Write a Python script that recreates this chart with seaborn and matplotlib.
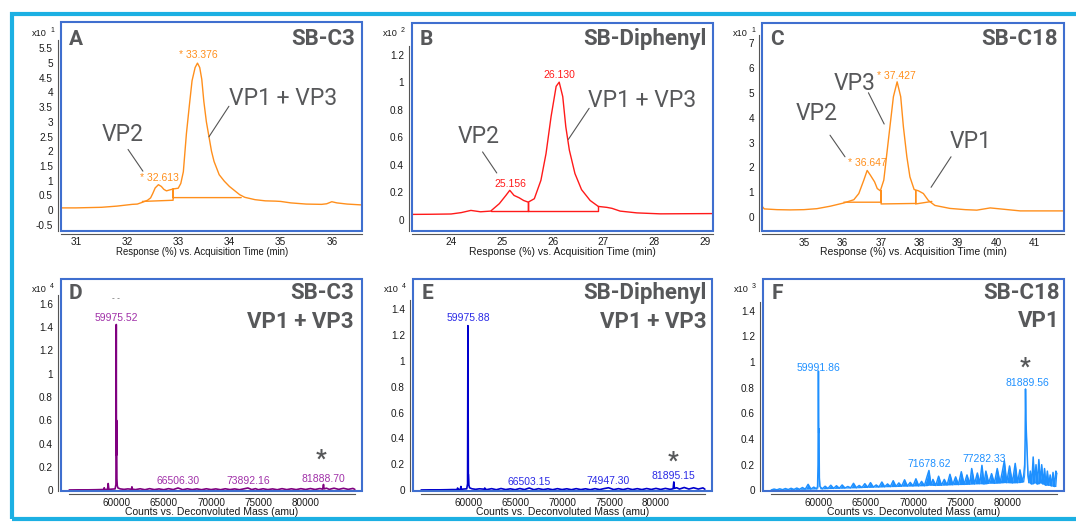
import matplotlib
matplotlib.use("Agg")
import matplotlib.pyplot as plt
import seaborn as sns
import pandas as pd
from matplotlib.patches import Rectangle

# ====================== DATA ======================
# Panel A : SB-C3 chromatogram (response x10^1)
a_time = [30.71, 31.00, 31.50, 31.80, 32.00, 32.10, 32.20, 32.30, 32.40, 32.46, 32.50, 32.55,
          32.613, 32.67, 32.72, 32.77, 32.85, 32.92, 33.00, 33.05, 33.10, 33.16, 33.22, 33.27,
          33.33, 33.376, 33.42, 33.46, 33.50, 33.55, 33.60, 33.65, 33.70, 33.80, 33.90, 34.00,
          34.10, 34.20, 34.30, 34.50, 34.70, 34.90, 35.00, 35.20, 35.50, 35.80, 35.90, 36.00,
          36.10, 36.30, 36.59]
a_resp = [0.07, 0.07, 0.09, 0.13, 0.17, 0.19, 0.20, 0.26, 0.33, 0.41, 0.55, 0.75,
          0.86, 0.80, 0.70, 0.65, 0.69, 0.72, 0.74, 0.90, 1.30, 2.60, 3.60, 4.40,
          4.85, 5.00, 4.85, 4.45, 3.70, 3.00, 2.50, 2.00, 1.65, 1.20, 0.98, 0.80,
          0.66, 0.52, 0.43, 0.35, 0.31, 0.30, 0.29, 0.24, 0.20, 0.19, 0.21, 0.28,
          0.24, 0.20, 0.17]
a_int_time = [32.30, 32.90, 32.90, 32.90, 34.23]
a_int_resp = [0.29, 0.33, 0.72, 0.42, 0.42]
a_peak_time = [32.613, 33.376]

# Panel B : SB-Diphenyl chromatogram (response x10^2)
b_time = [23.23, 23.60, 24.00, 24.20, 24.39, 24.58, 24.78, 24.95, 25.08, 25.156, 25.24, 25.34,
          25.43, 25.52, 25.64, 25.77, 25.87, 25.97, 26.07, 26.130, 26.20, 26.26, 26.33, 26.44,
          26.57, 26.74, 26.90, 27.07, 27.17, 27.33, 27.66, 28.12, 28.60, 29.16]
b_resp = [0.039, 0.040, 0.042, 0.052, 0.068, 0.058, 0.063, 0.117, 0.177, 0.214, 0.177, 0.160,
          0.140, 0.128, 0.153, 0.287, 0.480, 0.750, 0.970, 1.000, 0.895, 0.676, 0.506, 0.336,
          0.219, 0.140, 0.097, 0.090, 0.083, 0.063, 0.050, 0.043, 0.044, 0.045]
b_int_time = [24.78, 25.52, 25.52, 25.52, 26.90, 26.90]
b_int_resp = [0.062, 0.062, 0.128, 0.062, 0.062, 0.097]
b_peak_time = [25.156, 26.130]

# Panel C : SB-C18 chromatogram (response x10^1)
c_time = [33.92, 33.97, 34.30, 34.64, 35.00, 35.34, 35.69, 36.04, 36.30, 36.43, 36.56, 36.647,
          36.73, 36.84, 36.91, 36.99, 37.08, 37.16, 37.25, 37.33, 37.427, 37.52, 37.59, 37.68,
          37.76, 37.87, 37.98, 38.11, 38.24, 38.41, 38.80, 39.20, 39.50, 39.85, 40.11, 40.63,
          41.20, 41.76]
c_resp = [0.42, 0.33, 0.30, 0.29, 0.30, 0.34, 0.44, 0.57, 0.70, 0.95, 1.49, 1.88,
          1.69, 1.42, 1.15, 1.06, 1.49, 2.57, 3.78, 4.85, 5.45, 4.85, 3.64, 2.43,
          1.62, 1.11, 1.06, 0.95, 0.67, 0.47, 0.35, 0.30, 0.28, 0.37, 0.33, 0.25,
          0.25, 0.25]
c_int_time = [36.04, 37.01, 37.01, 37.01, 37.91, 37.91, 37.91, 38.33]
c_int_resp = [0.60, 0.60, 1.06, 0.53, 0.55, 1.07, 0.53, 0.63]
c_peak_time = [36.647, 37.427]

# Panel D : SB-C3 VP1+VP3 deconvoluted mass spectrum (counts x10^4)
d_mass = [55000, 56000, 57000, 57800, 58300, 58650, 58700, 58750, 59050, 59120,
          59190, 59500, 59850, 59940, 59975.52, 59992, 60005, 60020, 60040, 60080,
          60150, 60400, 60800, 61200, 61580, 61630, 61680, 62000, 62500, 63000,
          63500, 64000, 64500, 65000, 65500, 66000, 66506.30, 67000, 67500, 68000,
          68500, 69000, 69500, 70000, 70500, 71000, 71500, 72000, 72500, 73000,
          73500, 73892.16, 74300, 74700, 75000, 75500, 76000, 76500, 77000, 77500,
          78000, 78500, 79000, 79500, 80000, 80500, 81000, 81500, 81800, 81888.70,
          81950, 82200, 82500, 83000, 83500, 84000, 84500, 85000, 85200]
d_counts = [0.003, 0.004, 0.004, 0.005, 0.006, 0.007, 0.022, 0.007, 0.008, 0.058,
            0.008, 0.010, 0.012, 0.050, 1.420, 0.300, 0.600, 0.450, 0.100, 0.040,
            0.020, 0.012, 0.008, 0.012, 0.009, 0.030, 0.010, 0.006, 0.013, 0.005,
            0.014, 0.006, 0.012, 0.005, 0.014, 0.006, 0.020, 0.005, 0.013, 0.006,
            0.012, 0.005, 0.013, 0.006, 0.012, 0.005, 0.013, 0.006, 0.012, 0.005,
            0.013, 0.020, 0.006, 0.014, 0.005, 0.013, 0.006, 0.012, 0.005, 0.014,
            0.006, 0.013, 0.006, 0.014, 0.007, 0.015, 0.007, 0.015, 0.010, 0.050,
            0.012, 0.018, 0.008, 0.018, 0.008, 0.017, 0.008, 0.016, 0.008]
d_peak_mass = [59975.52, 66506.30, 73892.16, 81888.70]

# Panel E : SB-Diphenyl VP1+VP3 deconvoluted mass spectrum (counts x10^4)
e_mass = [55000, 56000, 57000, 57800, 58300, 58820, 58880, 58940, 59170, 59230,
          59290, 59500, 59850, 59940, 59975.88, 59992, 60005, 60020, 60040, 60080,
          60150, 60400, 60800, 61200, 61720, 61770, 61820, 62000, 62500, 63000,
          63500, 64000, 64500, 65000, 65500, 66000, 66503.15, 67000, 67500, 68000,
          68500, 69000, 69500, 70000, 70500, 71000, 71500, 72000, 72500, 73000,
          73500, 74000, 74500, 74947.30, 75500, 76000, 76500, 77000, 77500, 78000,
          78500, 79000, 79500, 80000, 80500, 81000, 81500, 81820, 81895.15, 81960,
          82200, 82500, 83000, 83500, 84000, 84500, 85000, 85200]
e_counts = [0.003, 0.004, 0.004, 0.005, 0.006, 0.006, 0.018, 0.006, 0.008, 0.030,
            0.008, 0.010, 0.012, 0.050, 1.270, 0.300, 0.530, 0.120, 0.120, 0.040,
            0.020, 0.012, 0.008, 0.012, 0.009, 0.018, 0.010, 0.006, 0.013, 0.005,
            0.014, 0.006, 0.012, 0.005, 0.014, 0.006, 0.018, 0.005, 0.013, 0.006,
            0.012, 0.005, 0.013, 0.006, 0.012, 0.005, 0.013, 0.006, 0.012, 0.005,
            0.013, 0.006, 0.014, 0.020, 0.006, 0.013, 0.006, 0.014, 0.006, 0.013,
            0.006, 0.014, 0.007, 0.015, 0.007, 0.015, 0.008, 0.012, 0.065, 0.015,
            0.020, 0.010, 0.022, 0.010, 0.020, 0.010, 0.019, 0.009]
e_peak_mass = [59975.88, 66503.15, 74947.30, 81895.15]

# Panel F : SB-C18 VP1 deconvoluted mass spectrum (counts x10^3)
f_mass = [55000, 55300, 55600, 55900, 56200, 56500, 56800, 57100, 57400, 57700,
          58000, 58300, 58600, 58900, 59200, 59500, 59800, 59900, 59950, 59991.86,
          60020, 60050, 60090, 60150, 60400, 60700, 61000, 61300, 61600, 61900,
          62200, 62500, 62800, 63100, 63400, 63700, 64000, 64300, 64600, 64900,
          65200, 65500, 65800, 66100, 66400, 66700, 67000, 67300, 67600, 67900,
          68200, 68500, 68800, 69100, 69400, 69700, 70000, 70300, 70600, 70900,
          71200, 71450, 71678.62, 71900, 72100, 72400, 72700, 73000, 73300, 73600,
          73900, 74200, 74500, 74800, 75100, 75400, 75700, 76000, 76200, 76500,
          76800, 77050, 77282.33, 77500, 77700, 78000, 78300, 78600, 78900, 79200,
          79450, 79650, 79900, 80200, 80500, 80800, 81050, 81300, 81550, 81700,
          81800, 81850, 81889.56, 81930, 81980, 82050, 82150, 82250, 82400, 82550,
          82700, 82850, 83000, 83150, 83300, 83450, 83600, 83750, 83900, 84050,
          84200, 84350, 84500, 84650, 84800, 84950, 85100, 85200]
f_counts = [0.003, 0.010, 0.004, 0.012, 0.005, 0.014, 0.006, 0.016, 0.007, 0.018,
            0.008, 0.022, 0.009, 0.047, 0.010, 0.025, 0.012, 0.030, 0.200, 0.930,
            0.450, 0.480, 0.100, 0.030, 0.012, 0.032, 0.014, 0.040, 0.015, 0.036,
            0.016, 0.042, 0.018, 0.030, 0.019, 0.055, 0.020, 0.038, 0.022, 0.052,
            0.023, 0.060, 0.025, 0.042, 0.026, 0.065, 0.028, 0.050, 0.029, 0.075,
            0.030, 0.058, 0.032, 0.082, 0.033, 0.062, 0.034, 0.090, 0.035, 0.070,
            0.036, 0.100, 0.155, 0.040, 0.085, 0.038, 0.110, 0.040, 0.085, 0.042,
            0.125, 0.044, 0.105, 0.045, 0.145, 0.046, 0.120, 0.048, 0.170, 0.050,
            0.135, 0.052, 0.195, 0.050, 0.150, 0.055, 0.130, 0.055, 0.170, 0.058,
            0.150, 0.230, 0.060, 0.190, 0.058, 0.210, 0.060, 0.160, 0.065, 0.120,
            0.200, 0.400, 0.790, 0.550, 0.450, 0.300, 0.120, 0.060, 0.150, 0.050,
            0.260, 0.060, 0.200, 0.050, 0.240, 0.060, 0.200, 0.050, 0.170, 0.040,
            0.150, 0.040, 0.120, 0.035, 0.140, 0.030, 0.150, 0.130]
f_peak_mass = [59991.86, 71678.62, 77282.33, 81889.56]

# tick labels
a_yticks = [-0.5, 0, 0.5, 1, 1.5, 2, 2.5, 3, 3.5, 4, 4.5, 5, 5.5]
b_yticks = [0, 0.2, 0.4, 0.6, 0.8, 1, 1.2]
c_yticks = [0, 1, 2, 3, 4, 5, 6, 7]
d_yticks = [0, 0.2, 0.4, 0.6, 0.8, 1, 1.2, 1.4, 1.6]
ef_yticks = [0, 0.2, 0.4, 0.6, 0.8, 1, 1.2, 1.4]
a_xticks = [31, 32, 33, 34, 35, 36]
b_xticks = [24, 25, 26, 27, 28, 29]
c_xticks = [34, 35, 36, 37, 38, 39, 40, 41]
ms_xticks = [55000, 60000, 65000, 70000, 75000, 80000, 85200]
ms_xticklabels = ["", "60000", "65000", "70000", "75000", "80000", ""]

# ====================== STYLE ======================
sns.set_theme(style="white")
plt.rcParams['font.family'] = ['Liberation Sans', 'DejaVu Sans']

W, H = 1076, 522
PX = 0.72  # points per pixel at dpi 100
FRAME = '#3F6FCF'
CYAN = '#1CB0E3'
GRAY = '#57585A'
ORANGE = '#FF8F1C'
RED = '#FF1A1A'
PURPLE = '#800080'
PURPLE_T = '#A030A8'
BLUE = '#0000CD'
BLUE_T = '#2A2AE6'
DODGER = '#1E90FF'
ROBOTO = ['Roboto', 'DejaVu Sans']
TXT = '#1A1A1A'

fig = plt.figure(figsize=(W / 100, H / 100), dpi=100)
fig.patch.set_facecolor('white')


def make_ax(l, t, r, b):
    return fig.add_axes([l / W, 1 - b / H, (r - l) / W, (b - t) / H])


def trace(ax, x, y, color, lw=1.0):
    df = pd.DataFrame({'x': x, 'y': y})
    sns.lineplot(data=df, x='x', y='y', ax=ax, color=color, linewidth=lw,
                 estimator=None, sort=False, zorder=3)


def fmt(v):
    return ('%g' % v)


def style(ax, xlim, ylim, xticks, xlabels, yticks, xlabel, exp, xbounds=None,
          xlabel_size=7.5, xlabel_x=0.5):
    ax.set_xlim(*xlim)
    ax.set_ylim(*ylim)
    ax.set_xticks(xticks)
    ax.set_xticklabels(xlabels)
    ax.set_yticks(yticks)
    ax.set_yticklabels([fmt(v) for v in yticks])
    ax.set_xlabel(xlabel, fontsize=xlabel_size, labelpad=-0.5, color=TXT, x=xlabel_x)
    ax.set_ylabel('')
    ax.grid(False)
    for s in ('top', 'right'):
        ax.spines[s].set_visible(False)
    for s in ('left', 'bottom'):
        ax.spines[s].set_position(('outward', 2.2))
        ax.spines[s].set_color('#555555')
        ax.spines[s].set_linewidth(0.8)
    ax.spines['left'].set_bounds(ylim[0], yticks[-1] + 0.04 * (ylim[1] - ylim[0]))
    if xbounds is not None:
        ax.spines['bottom'].set_bounds(*xbounds)
    ax.tick_params(axis='x', direction='out', length=2.6, width=0.8, color='#555555',
                   labelsize=7.2, labelcolor=TXT, pad=0.2)
    ax.tick_params(axis='y', direction='out', length=2.2, width=0.8, color='#555555',
                   labelsize=7.2, labelcolor=TXT, pad=1.4)
    ax.add_patch(Rectangle((0, 0), 1, 1, transform=ax.transAxes, fill=False,
                           ec=FRAME, lw=1.5, clip_on=False, zorder=10))
    ax.annotate('x10', xy=(0, 1), xycoords='axes fraction', xytext=(-14 * PX, -11 * PX),
                textcoords='offset points', ha='right', va='center', fontsize=6.6, color=TXT)
    ax.annotate(exp, xy=(0, 1), xycoords='axes fraction', xytext=(-9 * PX, -8 * PX),
                textcoords='offset points', ha='center', va='center', fontsize=5, color=TXT)


def corner(ax, letter, titles, ly, lx=7.5, rx=6.5, line_gap=28.5):
    ax.annotate(letter, xy=(0, 1), xycoords='axes fraction', xytext=(lx * PX, -ly * PX),
                textcoords='offset points', ha='left', va='center', fontsize=15,
                fontweight='bold', family=ROBOTO, color=GRAY)
    for i, t in enumerate(titles):
        ax.annotate(t, xy=(1, 1), xycoords='axes fraction',
                    xytext=(-rx * PX, -(ly + i * line_gap) * PX),
                    textcoords='offset points', ha='right', va='center', fontsize=16,
                    fontweight='bold', family=ROBOTO, color=GRAY)


def big(ax, text, x, y):
    ax.text(x, y, text, ha='center', va='center', fontsize=16.5, family=ROBOTO, color=GRAY)


def pointer(ax, x0, y0, x1, y1):
    ax.plot([x0, x1], [y0, y1], color='#555555', lw=0.8, zorder=4)


def small(ax, text, x, y, color):
    ax.text(x, y, text, ha='center', va='center', fontsize=7.5, color=color, zorder=6)


RT_LABEL = 'Response (%) vs. Acquisition Time (min)'
MS_LABEL = 'Counts vs. Deconvoluted Mass (amu)'

# ---------------- Panel A ----------------
axA = make_ax(61, 22, 362, 230.5)
trace(axA, a_time, a_resp, ORANGE, 1.0)
axA.plot(a_int_time, a_int_resp, color=ORANGE, lw=1.0, zorder=3)
style(axA, (30.71, 36.59), (-0.70, 6.40), a_xticks, [str(v) for v in a_xticks], a_yticks, RT_LABEL, '1',
      xlabel_size=6.9, xlabel_x=0.468)
corner(axA, 'A', ['SB-C3'], 17)
small(axA, '* %.3f' % a_peak_time[0], 32.63, 1.10, ORANGE)
small(axA, '* %.3f' % a_peak_time[1], 33.39, 5.28, ORANGE)
big(axA, 'VP2', 31.92, 2.58)
big(axA, 'VP1 + VP3', 35.04, 3.81)
pointer(axA, 32.02, 2.06, 32.31, 1.32)
pointer(axA, 33.99, 3.53, 33.60, 2.49)

# ---------------- Panel B ----------------
axB = make_ax(412, 23, 713, 230.5)
trace(axB, b_time, b_resp, RED, 1.0)
axB.plot(b_int_time, b_int_resp, color=RED, lw=1.0, zorder=3)
style(axB, (23.23, 29.16), (-0.078, 1.43), b_xticks, [str(v) for v in b_xticks], b_yticks, RT_LABEL, '2')
corner(axB, 'B', ['SB-Diphenyl'], 16.3, lx=8)
small(axB, '%.3f' % b_peak_time[0], 25.16, 0.263, RED)
small(axB, '%.3f' % b_peak_time[1], 26.13, 1.053, RED)
big(axB, 'VP2', 24.54, 0.608)
big(axB, 'VP1 + VP3', 27.77, 0.870)
pointer(axB, 24.62, 0.493, 24.90, 0.340)
pointer(axB, 26.72, 0.810, 26.31, 0.584)

# ---------------- Panel C ----------------
axC = make_ax(762, 23, 1064, 231)
trace(axC, c_time, c_resp, ORANGE, 1.0)
axC.plot(c_int_time, c_int_resp, color=ORANGE, lw=1.0, zorder=3)
style(axC, (33.91, 41.77), (-0.56, 7.82), c_xticks, ['', '35', '36', '37', '38', '39', '40', '41'],
      c_yticks, RT_LABEL, '1')
corner(axC, 'C', ['SB-C18'], 16.3, lx=8)
small(axC, '* %.3f' % c_peak_time[0], 36.64, 2.16, ORANGE)
small(axC, '* %.3f' % c_peak_time[1], 37.42, 5.69, ORANGE)
big(axC, 'VP2', 35.34, 4.19)
big(axC, 'VP3', 36.33, 5.39)
big(axC, 'VP1', 39.33, 3.04)
pointer(axC, 35.68, 3.30, 36.07, 2.43)
pointer(axC, 36.68, 5.01, 37.09, 3.75)
pointer(axC, 38.83, 2.43, 38.31, 1.20)

# ---------------- Panel D ----------------
MS_XLIM = (54130, 85960)
axD = make_ax(61, 279, 362, 491)
trace(axD, d_mass, d_counts, PURPLE, 1.2)
style(axD, MS_XLIM, (-0.006, 1.81), ms_xticks, ms_xticklabels, d_yticks, MS_LABEL, '4',
      xbounds=(55000, 85200))
corner(axD, 'D', ['SB-C3', 'VP1 + VP3'], 14.3, lx=7.3, rx=8)
small(axD, '%.2f' % d_peak_mass[0], d_peak_mass[0], 1.475, PURPLE_T)
small(axD, '%.2f' % d_peak_mass[1], d_peak_mass[1], 0.080, PURPLE_T)
small(axD, '%.2f' % d_peak_mass[2], d_peak_mass[2], 0.080, PURPLE_T)
small(axD, '%.2f' % d_peak_mass[3], d_peak_mass[3], 0.100, PURPLE_T)
axD.text(d_peak_mass[0], 1.64, '- -', ha='center', va='center', fontsize=6, color='#555555')
axD.text(81595, 0.27, '*', ha='center', va='center', fontsize=17, fontweight='bold',
         family=ROBOTO, color=GRAY)

# ---------------- Panel E ----------------
axE = make_ax(413, 279, 712, 491)
trace(axE, e_mass, e_counts, BLUE, 1.2)
style(axE, MS_XLIM, (-0.005, 1.63), ms_xticks, ms_xticklabels, ef_yticks, MS_LABEL, '4',
      xbounds=(55000, 85200))
corner(axE, 'E', ['SB-Diphenyl', 'VP1 + VP3'], 14.3, lx=9, rx=5.3, line_gap=29)
small(axE, '%.2f' % e_peak_mass[0], e_peak_mass[0], 1.328, BLUE_T)
small(axE, '%.2f' % e_peak_mass[1], e_peak_mass[1], 0.064, BLUE_T)
small(axE, '%.2f' % e_peak_mass[2], e_peak_mass[2], 0.072, BLUE_T)
small(axE, '%.2f' % e_peak_mass[3], e_peak_mass[3], 0.108, BLUE_T)
axE.text(81840, 0.225, '*', ha='center', va='center', fontsize=17, fontweight='bold',
         family=ROBOTO, color=GRAY)

# ---------------- Panel F ----------------
axF = make_ax(763, 279, 1064, 491)
f_floor = pd.Series(f_counts).rolling(3, center=True, min_periods=1).min()
axF.fill_between(f_mass, f_floor, f_counts, color=DODGER, lw=0, zorder=2)
trace(axF, f_mass, f_counts, DODGER, 1.1)
style(axF, MS_XLIM, (-0.005, 1.647), ms_xticks, ms_xticklabels, ef_yticks, MS_LABEL, '3',
      xbounds=(55000, 85200))
corner(axF, 'F', ['SB-C18', 'VP1'], 14.3, lx=8.7, rx=4.5, line_gap=28)
small(axF, '%.2f' % f_peak_mass[0], f_peak_mass[0], 0.955, DODGER)
small(axF, '%.2f' % f_peak_mass[1], f_peak_mass[1], 0.203, DODGER)
small(axF, '%.2f' % f_peak_mass[2], 77540, 0.242, DODGER)
small(axF, '%.2f' % f_peak_mass[3], 82050, 0.838, DODGER)
axF.text(81880, 0.96, '*', ha='center', va='center', fontsize=17, fontweight='bold',
         family=ROBOTO, color=GRAY)

# ---------------- outer cyan frame (open on the right) ----------------
fig.add_artist(Rectangle((12 / W, 1 - 519 / H), (1100 - 12) / W, (519 - 14) / H,
                         transform=fig.transFigure, fill=False, ec=CYAN, lw=3.0,
                         clip_on=False))

fig.savefig('out.png', dpi=100)
